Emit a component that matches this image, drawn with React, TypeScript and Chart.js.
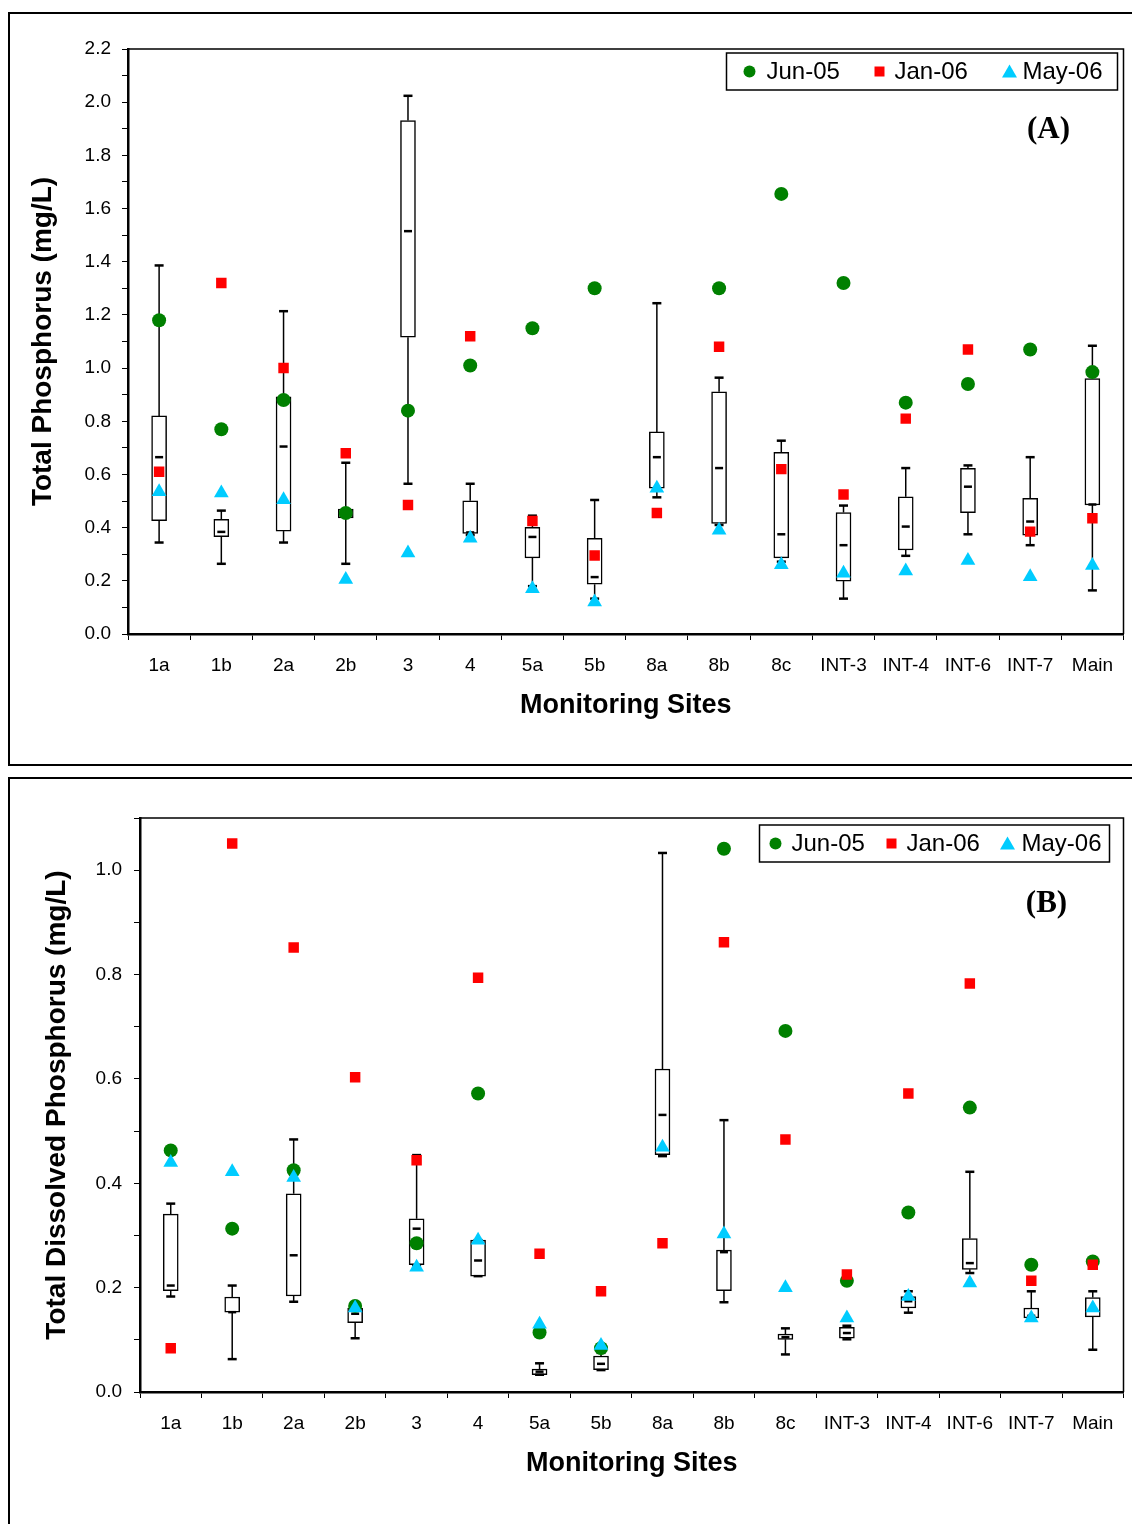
import React, { useEffect, useRef } from 'react';
import { Chart, registerables } from 'chart.js';

Chart.register(...registerables);

const SITES = ['1a', '1b', '2a', '2b', '3', '4', '5a', '5b', '8a', '8b', '8c', 'INT-3', 'INT-4', 'INT-6', 'INT-7', 'Main'];
const SERIES_LABELS = ['Jun-05', 'Jan-06', 'May-06'];

// Panel A: Total Phosphorus (mg/L)
const TP_JUN05 = [1.18, 0.77, 0.88, 0.455, 0.84, 1.01, 1.15, 1.30, null, 1.30, 1.655, 1.32, 0.87, 0.94, 1.07, 0.985];
const TP_JAN06 = [0.61, 1.32, 1.00, 0.68, 0.485, 1.12, 0.425, 0.295, 0.455, 1.08, 0.62, 0.525, 0.81, 1.07, 0.385, 0.435];
const TP_MAY06 = [0.535, 0.53, 0.505, 0.205, 0.305, 0.36, 0.17, 0.12, 0.548, 0.39, 0.26, 0.228, 0.237, 0.276, 0.215, 0.258];
const TP_MIN = [0.344, 0.264, 0.344, 0.264, 0.565, 0.372, 0.18, 0.133, 0.514, 0.41, 0.272, 0.133, 0.294, 0.375, 0.334, 0.164];
const TP_Q1 = [0.426, 0.366, 0.387, 0.437, 1.116, 0.378, 0.286, 0.187, 0.548, 0.416, 0.286, 0.199, 0.316, 0.456, 0.372, 0.485];
const TP_MED = [0.665, 0.384, 0.705, 0.455, 1.515, 0.382, 0.365, 0.214, 0.665, 0.624, 0.375, 0.334, 0.404, 0.554, 0.423, 0.487];
const TP_Q3 = [0.82, 0.431, 0.892, 0.47, 1.931, 0.501, 0.401, 0.36, 0.76, 0.911, 0.683, 0.457, 0.516, 0.623, 0.51, 0.961];
const TP_MAX = [1.386, 0.464, 1.214, 0.644, 2.024, 0.565, 0.445, 0.504, 1.244, 0.964, 0.727, 0.483, 0.624, 0.634, 0.665, 1.084];

// Panel B: Total Dissolved Phosphorus (mg/L)
const TDP_JUN05 = [0.463, 0.313, 0.425, 0.165, 0.285, 0.572, 0.114, 0.084, null, 1.041, 0.692, 0.213, 0.344, 0.545, 0.244, 0.25];
const TDP_JAN06 = [0.084, 1.051, 0.852, 0.603, 0.444, 0.794, 0.265, 0.193, 0.285, 0.862, 0.484, 0.225, 0.572, 0.783, 0.213, 0.244];
const TDP_MAY06 = [0.44, 0.422, 0.411, 0.161, 0.239, 0.291, 0.13, 0.089, 0.469, 0.303, 0.2, 0.142, 0.183, 0.209, 0.142, 0.161];
const TDP_MIN = [0.183, 0.063, 0.173, 0.103, 0.243, 0.222, 0.033, 0.042, 0.452, 0.172, 0.072, 0.101, 0.152, 0.228, 0.139, 0.081];
const TDP_Q1 = [0.194, 0.153, 0.184, 0.133, 0.244, 0.222, 0.033, 0.043, 0.455, 0.194, 0.101, 0.103, 0.161, 0.235, 0.142, 0.144];
const TDP_MED = [0.204, 0.153, 0.262, 0.15, 0.313, 0.252, 0.039, 0.054, 0.531, 0.268, 0.105, 0.113, 0.174, 0.247, 0.146, 0.157];
const TDP_Q3 = [0.341, 0.182, 0.38, 0.161, 0.332, 0.291, 0.044, 0.069, 0.619, 0.272, 0.111, 0.124, 0.183, 0.294, 0.161, 0.181];
const TDP_MAX = [0.361, 0.204, 0.484, 0.165, 0.454, 0.291, 0.055, 0.075, 1.033, 0.521, 0.122, 0.127, 0.193, 0.422, 0.193, 0.193];

const GREEN = '#008000';
const RED = '#FF0000';
const CYAN = '#00CCFF';
const SANS = "'Liberation Sans', Arial, sans-serif";
const SERIF = "'Liberation Serif', 'Times New Roman', serif";

type Spec = {
  jun: (number | null)[];
  jan: number[];
  may: number[];
  min: number[];
  q1: number[];
  med: number[];
  q3: number[];
  max: number[];
  yMax: number;
  yTitle: string;
  tag: string;
  left: number;
  top: number;
  width: number;
  height: number;
  padTop: number;
  padRight: number;
  yWidth: number;
  xHeight: number;
  yTitlePad: number;
  yTickPad: number;
  legend: { right: number; top: number; w: number; h: number; marks: number[]; texts: number[] };
  tagDx: number;
  tagDy: number;
  frameBottom: boolean;
};

const PANEL_A: Spec = {
  jun: TP_JUN05, jan: TP_JAN06, may: TP_MAY06,
  min: TP_MIN, q1: TP_Q1, med: TP_MED, q3: TP_Q3, max: TP_MAX,
  yMax: 2.2, yTitle: 'Total Phosphorus (mg/L)', tag: '(A)',
  left: 8, top: 12, width: 1124, height: 754,
  padTop: 37, padRight: 6, yWidth: 120, xHeight: 132,
  yTitlePad: 18, yTickPad: 11,
  legend: { right: 6, top: 4, w: 391, h: 37, marks: [23, 153, 283], texts: [40, 168, 296] },
  tagDx: 75, tagDy: 81, frameBottom: true,
};

const PANEL_B: Spec = {
  jun: TDP_JUN05, jan: TDP_JAN06, may: TDP_MAY06,
  min: TDP_MIN, q1: TDP_Q1, med: TDP_MED, q3: TDP_Q3, max: TDP_MAX,
  yMax: 1.1, yTitle: 'Total Dissolved Phosphorus (mg/L)', tag: '(B)',
  left: 8, top: 777, width: 1124, height: 747,
  padTop: 41, padRight: 5, yWidth: 132, xHeight: 132,
  yTitlePad: 32, yTickPad: 12,
  legend: { right: 14, top: 7, w: 350, h: 37, marks: [16, 132, 248], texts: [32, 147, 262] },
  tagDx: 77, tagDy: 86, frameBottom: false,
};

function drawMarker(ctx: CanvasRenderingContext2D, kind: string, x: number, y: number) {
  ctx.beginPath();
  if (kind === 'circle') {
    ctx.fillStyle = GREEN;
    ctx.arc(x, y, 6, 0, Math.PI * 2);
  } else if (kind === 'rect') {
    ctx.fillStyle = RED;
    ctx.rect(x - 5, y - 5, 10, 10);
  } else {
    ctx.fillStyle = CYAN;
    ctx.moveTo(x, y - 7);
    ctx.lineTo(x + 7.5, y + 6);
    ctx.lineTo(x - 7.5, y + 6);
    ctx.closePath();
  }
  ctx.fill();
}

function makePlugin(spec: Spec) {
  return {
    id: 'panelDecor',
    afterDatasetDraw(chart: any, args: any) {
      if (args.index !== 3) return;
      const ctx: CanvasRenderingContext2D = chart.ctx;
      const xs = chart.scales.x;
      const ys = chart.scales.y;
      ctx.save();
      ctx.strokeStyle = '#000';
      const line = (x1: number, y1: number, x2: number, y2: number, w: number) => {
        ctx.lineWidth = w;
        ctx.beginPath();
        ctx.moveTo(x1, y1);
        ctx.lineTo(x2, y2);
        ctx.stroke();
      };
      SITES.forEach((_, i) => {
        const px = xs.getPixelForValue(i);
        const yMin = ys.getPixelForValue(spec.min[i]);
        const yQ1 = ys.getPixelForValue(spec.q1[i]);
        const yMed = ys.getPixelForValue(spec.med[i]);
        const yQ3 = ys.getPixelForValue(spec.q3[i]);
        const yMaxP = ys.getPixelForValue(spec.max[i]);
        line(px, yQ3, px, yMaxP, 1.5);
        line(px, yQ1, px, yMin, 1.5);
        line(px - 4.5, yMaxP, px + 4.5, yMaxP, 2.5);
        line(px - 4.5, yMin, px + 4.5, yMin, 2.5);
        line(px - 4, yMed, px + 4, yMed, 2.5);
      });
      ctx.restore();
    },
    afterDraw(chart: any) {
      const ctx: CanvasRenderingContext2D = chart.ctx;
      const ca = chart.chartArea;
      const W = chart.width;
      const H = chart.height;
      ctx.save();
      ctx.strokeStyle = '#000';
      // outer panel frame
      ctx.lineWidth = 2;
      ctx.beginPath();
      ctx.moveTo(1, H);
      ctx.lineTo(1, 1);
      ctx.lineTo(W, 1);
      if (spec.frameBottom) {
        ctx.moveTo(1, H - 1);
        ctx.lineTo(W, H - 1);
      }
      ctx.stroke();
      // plot border top/right
      ctx.lineWidth = 1.5;
      ctx.beginPath();
      ctx.moveTo(ca.left, ca.top);
      ctx.lineTo(ca.right, ca.top);
      ctx.lineTo(ca.right, ca.bottom);
      ctx.stroke();
      // legend
      const lg = spec.legend;
      const lx = ca.right - lg.right - lg.w;
      const ly = ca.top + lg.top;
      ctx.fillStyle = '#fff';
      ctx.fillRect(lx, ly, lg.w, lg.h);
      ctx.lineWidth = 1.5;
      ctx.strokeRect(lx, ly, lg.w, lg.h);
      const kinds = ['circle', 'rect', 'triangle'];
      const cy = ly + lg.h / 2;
      ctx.font = `24px ${SANS}`;
      ctx.textBaseline = 'middle';
      ctx.textAlign = 'left';
      SERIES_LABELS.forEach((lab, k) => {
        drawMarker(ctx, kinds[k], lx + lg.marks[k], cy);
        ctx.fillStyle = '#000';
        ctx.fillText(lab, lx + lg.texts[k], cy + 1);
      });
      // panel tag
      ctx.font = `bold 31px ${SERIF}`;
      ctx.textAlign = 'center';
      ctx.fillStyle = '#000';
      ctx.fillText(spec.tag, ca.right - spec.tagDx, ca.top + spec.tagDy);
      ctx.restore();
    },
  };
}

function Panel({ spec }: { spec: Spec }) {
  const ref = useRef<HTMLCanvasElement | null>(null);
  useEffect(() => {
    const canvas = ref.current;
    if (!canvas) return;
    const chart = new Chart(canvas, {
      type: 'bar',
      data: {
        labels: SITES,
        datasets: [
          {
            type: 'line', label: SERIES_LABELS[2], data: spec.may, showLine: false,
            pointStyle: 'triangle', pointRadius: 8.5, pointHoverRadius: 8.5,
            pointBackgroundColor: CYAN, pointBorderColor: CYAN, pointBorderWidth: 0,
          } as any,
          {
            type: 'line', label: SERIES_LABELS[1], data: spec.jan, showLine: false,
            pointStyle: 'rect', pointRadius: 7.4, pointHoverRadius: 7.4,
            pointBackgroundColor: RED, pointBorderColor: RED, pointBorderWidth: 0,
          } as any,
          {
            type: 'line', label: SERIES_LABELS[0], data: spec.jun, showLine: false,
            pointStyle: 'circle', pointRadius: 7, pointHoverRadius: 7,
            pointBackgroundColor: GREEN, pointBorderColor: GREEN, pointBorderWidth: 0,
          } as any,
          {
            type: 'bar', label: 'box', data: spec.q1.map((v, i) => [v, spec.q3[i]]),
            backgroundColor: '#fff', borderColor: '#000', borderWidth: 1.5,
            borderSkipped: false, barThickness: 15,
          } as any,
        ],
      },
      options: {
        responsive: false,
        animation: false,
        events: [],
        layout: { padding: { top: spec.padTop, right: spec.padRight, left: 0, bottom: 0 } },
        plugins: { legend: { display: false }, tooltip: { enabled: false } },
        scales: {
          x: {
            type: 'category',
            offset: true,
            grid: { offset: true, drawOnChartArea: false, drawTicks: true, tickLength: 6, color: '#000', lineWidth: 1 },
            border: { display: true, color: '#000', width: 2.5 },
            ticks: {
              color: '#000', font: { family: SANS, size: 19, lineHeight: 2.67 },
              padding: 0, maxRotation: 0, autoSkip: false,
            },
            title: {
              display: true, text: 'Monitoring Sites', color: '#000',
              font: { family: SANS, size: 27, weight: 'bold' }, padding: { top: 0, bottom: 44 },
            },
            afterFit: (s: any) => { s.height = spec.xHeight; },
          },
          y: {
            type: 'linear',
            min: 0,
            max: spec.yMax,
            grid: { drawOnChartArea: false, drawTicks: true, tickLength: 6, color: '#000', lineWidth: 1 },
            border: { display: true, color: '#000', width: 2.5 },
            ticks: {
              stepSize: 0.1, autoSkip: false, color: '#000', padding: spec.yTickPad,
              font: { family: SANS, size: 19 },
              callback: (v: any) => {
                const r = Math.round(Number(v) * 10);
                return r % 2 === 0 ? (r / 10).toFixed(1) : '';
              },
            },
            title: {
              display: true, text: spec.yTitle, color: '#000',
              font: { family: SANS, size: 28, weight: 'bold' }, padding: { top: spec.yTitlePad, bottom: 0 },
            },
            afterFit: (s: any) => { s.width = spec.yWidth; },
          },
        },
      } as any,
      plugins: [makePlugin(spec) as any],
    });
    return () => chart.destroy();
  }, [spec]);
  return (
    <canvas
      ref={ref}
      width={spec.width}
      height={spec.height}
      style={{ position: 'absolute', left: spec.left, top: spec.top, width: spec.width, height: spec.height, display: 'block' }}
    />
  );
}

export default function App() {
  return (
    <div style={{ position: 'absolute', left: 0, top: 0, width: 1132, height: 1524, overflow: 'hidden', background: '#fff' }}>
      <Panel spec={PANEL_A} />
      <Panel spec={PANEL_B} />
    </div>
  );
}
